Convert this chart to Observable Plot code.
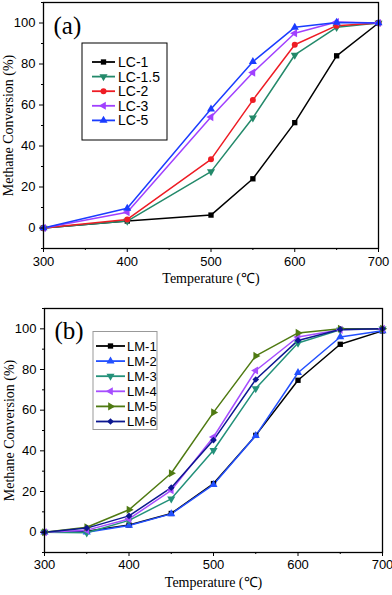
<!DOCTYPE html>
<html><head><meta charset="utf-8">
<script src="https://cdn.jsdelivr.net/npm/d3@7"></script>
<script src="https://cdn.jsdelivr.net/npm/@observablehq/plot@0.6"></script>
<style>
body{margin:0;background:#fff;width:392px;height:595px;overflow:hidden}
#a,#b{display:block;line-height:0}
svg{display:block}
</style></head><body><div id="a"></div><div id="b"></div>
<script>
// ---- data ----
const tempsA = [300,400,500,550,600,650,700];
const namesA = ["LC-1","LC-1.5","LC-2","LC-3","LC-5"];
const LC1   = [0,3.4,6.3,24,51.4,84,100];
const LC1_5 = [0,3.4,27.5,53.8,84.4,97.9,100];
const LC2   = [0,4.2,33.5,62.4,89.4,98.7,100];
const LC3   = [0,7.7,54.1,75.8,95,100.5,100];
const LC5   = [0,9.6,58,81.1,97.9,100.3,100];
const valuesA = [LC1,LC1_5,LC2,LC3,LC5];

const tempsB = [300,350,400,450,500,550,600,650,700];
const namesB = ["LM-1","LM-2","LM-3","LM-4","LM-5","LM-6"];
const LM1 = [0,0.5,3.5,9.2,23.9,47.6,74.7,92.4,99];
const LM2 = [0,0,3.3,9,23.4,47.5,78.4,96,99];
const LM3 = [0,-0.3,5.8,16.4,40.3,70.6,93,99.5,100];
const LM4 = [0,1,6.5,20.6,46.8,79.5,96,99.5,100];
const LM5 = [0,2.4,11,29,58.9,86.7,98,100,100];
const LM6 = [0,2,8,21.9,45.3,75.1,94.3,99.7,100];
const valuesB = [LM1,LM2,LM3,LM4,LM5,LM6];

const xTicks = [300,400,500,600,700];
const xMinor = [350,450,550,650];
const yTicks = [0,20,40,60,80,100];
const yMinor = [-10,10,30,50,70,90,110];

// ---- symbols ----
function tri(angleDeg){
  return {draw(ctx,size){
    const s = Math.sqrt(4*size/Math.sqrt(3));
    const R = s/Math.sqrt(3);
    const a0 = angleDeg*Math.PI/180;
    for(let i=0;i<3;i++){
      const a = a0 + i*2*Math.PI/3;
      const x = R*Math.cos(a), y = R*Math.sin(a);
      if(i===0) ctx.moveTo(x,y); else ctx.lineTo(x,y);
    }
    ctx.closePath();
  }};
}
const triUp = tri(-90), triDown = tri(90), triLeft = tri(180), triRight = tri(0);

const styleA = [
  {color:"#000000", sym:d3.symbolSquare},
  {color:"#23896a", sym:triDown},
  {color:"#ee1c24", sym:d3.symbolCircle},
  {color:"#a040ff", sym:triLeft},
  {color:"#1a3cff", sym:triUp}
];
const styleB = [
  {color:"#000000", sym:d3.symbolSquare},
  {color:"#2350ff", sym:triUp},
  {color:"#23917a", sym:triDown},
  {color:"#a64dff", sym:triLeft},
  {color:"#4f7a12", sym:triRight},
  {color:"#0c1790", sym:d3.symbolDiamond2}
];

const SANS = "Liberation Sans, Arial, sans-serif";
const SERIF = "Liberation Serif, Times New Roman, serif";

function makePanel(o){
  const rows = [];
  o.names.forEach((n,i)=>o.values[i].forEach((v,j)=>rows.push({name:n, t:o.temps[j], v, i})));
  const marks = [];
  o.names.forEach((n,i)=>{
    const d = rows.filter(r=>r.i===i);
    marks.push(Plot.line(d,{x:"t",y:"v",stroke:o.styles[i].color,strokeWidth:1.5}));
  });
  o.names.forEach((n,i)=>{
    const d = rows.filter(r=>r.i===i);
    marks.push(Plot.dot(d,{x:"t",y:"v",symbol:o.styles[i].sym,fill:o.styles[i].color,stroke:"none",r:3}));
  });
  marks.push(Plot.frame({stroke:"black",strokeWidth:1.3}));
  marks.push(Plot.axisX({ticks:xTicks,tickSize:4,tickPadding:o.xPad,fontSize:13,fontFamily:SANS}));
  marks.push(Plot.axisX({ticks:xMinor,tickSize:2,tickFormat:()=>""}));
  marks.push(Plot.axisY({ticks:yTicks,tickSize:4,tickPadding:4,fontSize:13,fontFamily:SANS}));
  marks.push(Plot.axisY({ticks:yMinor,tickSize:2,tickFormat:()=>""}));
  marks.push(Plot.text(["Temperature (\u2103)"],{frameAnchor:"bottom",dy:30,lineAnchor:"middle",textAnchor:"middle",fontFamily:SERIF,fontSize:14}));
  marks.push(Plot.text(["Methane Conversion (%)"],{frameAnchor:"left",dx:-35,rotate:-90,lineAnchor:"middle",textAnchor:"middle",fontFamily:SERIF,fontSize:14}));
  marks.push(Plot.text([o.tag],{frameAnchor:"top-left",dx:10,dy:o.tagDy,textAnchor:"start",lineAnchor:"middle",fontFamily:SERIF,fontSize:25}));
  const svg = Plot.plot({
    width:392, height:o.height,
    marginTop:o.mt, marginBottom:o.mb, marginLeft:o.ml, marginRight:o.mr,
    style:{fontFamily:SANS, fontSize:"13px", color:"black", background:"white"},
    x:{domain:[300,700], label:null, axis:null},
    y:{domain:[-10,110], label:null, axis:null},
    marks
  });
  // legend overlay
  const g = d3.select(svg).append("g").attr("text-anchor","start");
  const L = o.legend;
  g.append("rect").attr("x",L.x0).attr("y",L.y0).attr("width",L.x1-L.x0).attr("height",L.y1-L.y0)
    .attr("fill","white").attr("stroke",L.border).attr("stroke-width",L.bw);
  o.names.forEach((n,i)=>{
    const y = L.row0 + i*L.step;
    g.append("line").attr("x1",L.lx0).attr("x2",L.lx1).attr("y1",y).attr("y2",y)
      .attr("stroke",o.styles[i].color).attr("stroke-width",1.8);
    g.append("path").attr("d",d3.symbol(o.styles[i].sym, 9*Math.PI)())
      .attr("transform",`translate(${(L.lx0+L.lx1)/2},${y})`).attr("fill",o.styles[i].color);
    g.append("text").attr("x",L.tx).attr("y",y).attr("dy","0.35em").attr("font-size",L.fs)
      .attr("text-anchor","start")
      .attr("font-family",SANS).attr("fill","black").text(n);
  });
  return svg;
}

document.getElementById("a").appendChild(makePanel({
  names:namesA, values:valuesA, temps:tempsA, styles:styleA, tag:"(a)", tagDy:23,
  height:295, mt:2, mb:47, ml:43, mr:14, xPad:4,
  legend:{x0:82,y0:43,x1:167,y1:140,border:"black",bw:1,row0:62,step:14.6,lx0:92,lx1:115,tx:118,fs:14}
}));
document.getElementById("b").appendChild(makePanel({
  names:namesB, values:valuesB, temps:tempsB, styles:styleB, tag:"(b)", tagDy:22,
  height:300, mt:13, mb:43, ml:44, mr:10, xPad:3,
  legend:{x0:93,y0:36.5,x1:157,y1:134.5,border:"#999",bw:1,row0:51,step:15.1,lx0:96,lx1:125,tx:127,fs:13}
}));
</script>
</body></html>
